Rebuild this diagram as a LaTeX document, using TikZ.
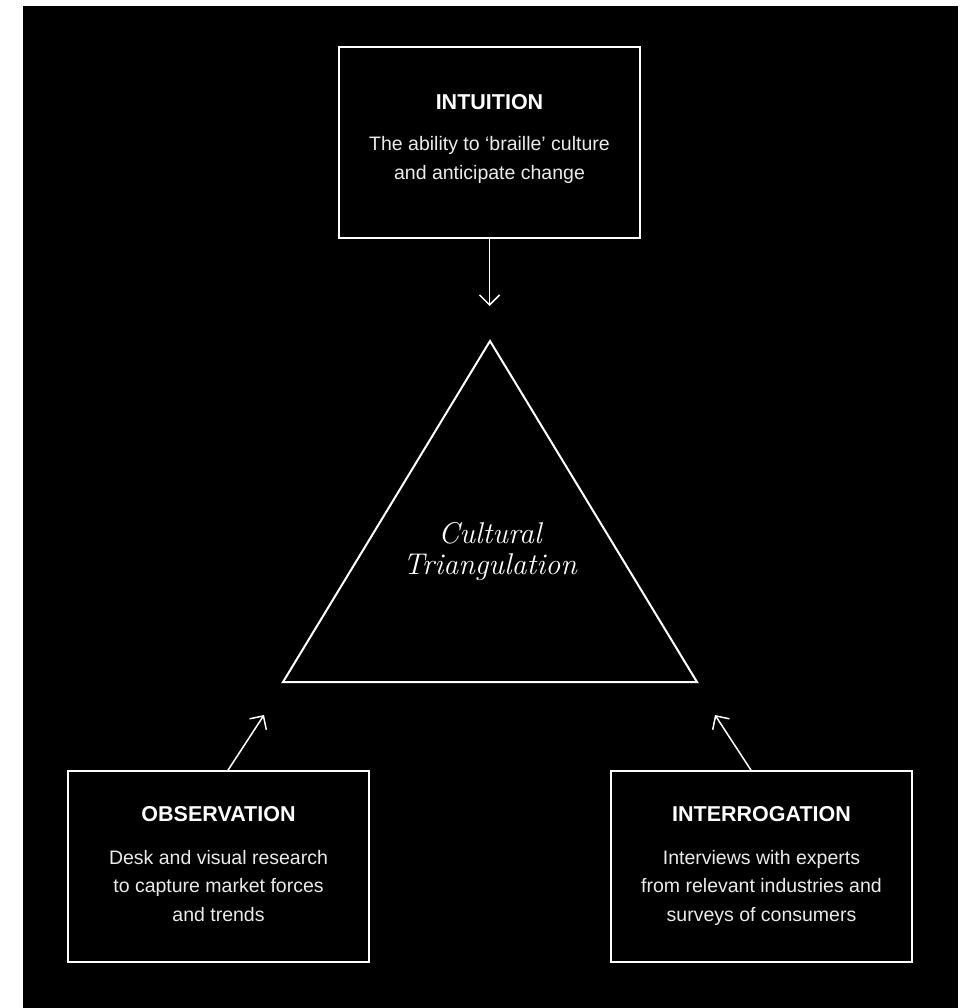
\documentclass[tikz,border=0pt]{standalone}
\usepackage{fontspec}
\newfontfamily\grot{Liberation Sans}
\usetikzlibrary{arrows.meta,calc}
\begin{document}
\begin{tikzpicture}[x=1pt,y=-1pt,
  box/.style={draw=white,line width=1.6pt,minimum width=301pt,minimum height=191pt,inner sep=0pt},
  ttl/.style={text=white,font=\grot\bfseries\fontsize{21.5}{24}\selectfont,anchor=base,inner sep=0pt},
  body/.style={text=white!92!black,font=\grot\fontsize{19.5}{24}\selectfont,anchor=base,inner sep=0pt},
  ital/.style={text=white,font=\itshape\fontsize{30}{31}\selectfont,anchor=base,inner sep=0pt},
  arr/.style={draw=white,line width=1.5pt,-{Straight Barb[length=10pt,width=20pt,line width=1.5pt]}},
  tri/.style={draw=white,line width=2pt,line join=miter}]
\fill[white] (0,0) rectangle (964,1008);
\useasboundingbox (0,0) rectangle (964,1008);
\fill[black] (23,6) rectangle (958,1008);

% boxes
\node[box] (intu) at (489.5,142.5) {};
\node[box] (obs) at (218.5,866.5) {};
\node[box] (inter) at (761.5,866.5) {};

% intuition text
\node[ttl] (intuT) at ($(intu.north)+(0,63)$) {INTUITION};
\node[body] (intuA) at ($(intu.north)+(0,104.7)$) {The ability to ‘braille’ culture};
\node[body] (intuB) at ($(intu.north)+(0,133.5)$) {and anticipate change};

% observation text
\node[ttl] (obsT) at ($(obs.north)+(0,51.7)$) {OBSERVATION};
\node[body] (obsA) at ($(obs.north)+(0,94)$) {Desk and visual research};
\node[body] (obsB) at ($(obs.north)+(0,122.5)$) {to capture market forces};
\node[body] (obsC) at ($(obs.north)+(0,151)$) {and trends};

% interrogation text
\node[ttl] (interT) at ($(inter.north)+(0,51.7)$) {INTERROGATION};
\node[body] (interA) at ($(inter.north)+(0,94)$) {Interviews with experts};
\node[body] (interB) at ($(inter.north)+(0,122.5)$) {from relevant industries and};
\node[body] (interC) at ($(inter.north)+(0,151)$) {surveys of consumers};

% triangle
\coordinate (ta) at (490,341);
\coordinate (tl) at (283,682);
\coordinate (tr) at (697,682);
\draw[tri] (ta) -- (tl) -- (tr) -- cycle;
\node[ital] (ctA) at (490,543.3) {Cultural};
\node[ital] (ctB) at (490,574) {Triangulation};

% arrow targets
\coordinate (pTop) at (489.5,306);
\coordinate (pLeft) at (264,715);
\coordinate (pRight) at (715,715);
\coordinate (sLeft) at ($(obs.north)+(9.5,0)$);
\coordinate (sRight) at ($(inter.north)+(-10.5,0)$);

\draw[arr] (intu.south) -- (pTop);
\draw[arr] (sLeft) -- (pLeft);
\draw[arr] (sRight) -- (pRight);
\end{tikzpicture}
\end{document}
